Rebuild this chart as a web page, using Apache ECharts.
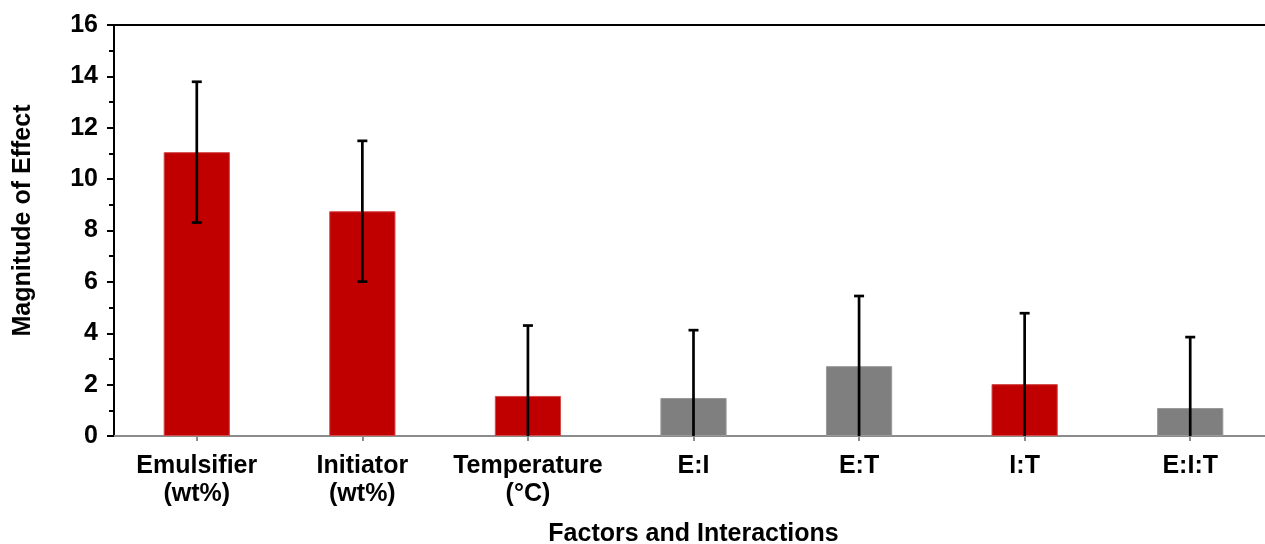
<!DOCTYPE html>
<html>
<head>
<meta charset="utf-8">
<script src="https://cdn.jsdelivr.net/npm/echarts@6/dist/echarts.min.js"></script>
<style>html,body{margin:0;padding:0;background:#fff;overflow:hidden}#c{width:1265px;height:544px}</style>
</head>
<body>
<div id="c"></div>
<script>
const categories = ['Emulsifier\n(wt%)', 'Initiator\n(wt%)', 'Temperature\n(°C)', 'E:I', 'E:T', 'I:T', 'E:I:T'];
const effects = [11.05, 8.75, 1.56, 1.48, 2.72, 2.02, 1.09];
const errors = [2.74, 2.74, 2.74, 2.64, 2.73, 2.76, 2.76];
const significant = [true, true, true, false, false, true, false];
const yTicks = [0, 2, 4, 6, 8, 10, 12, 14, 16];

const RED = '#C00000', GRAY = '#7F7F7F';
const font = 'Liberation Sans, Arial, sans-serif';
const FS = 25;

const chart = echarts.init(document.getElementById('c'));
chart.setOption({
  animation: false,
  grid: { left: 114, width: 1159, top: 25, bottom: 108, outerBoundsMode: 'none', containLabel: false },
  xAxis: [{
    type: 'category',
    data: categories,
    name: 'Factors and Interactions',
    nameLocation: 'middle',
    nameGap: 86,
    nameTextStyle: { fontFamily: font, fontWeight: 'bold', fontSize: FS, color: '#000' },
    axisLine: { lineStyle: { color: '#8c8c8c', width: 2 } },
    axisTick: { show: true, alignWithLabel: true, length: 5, lineStyle: { color: '#8c8c8c', width: 2 } },
    axisLabel: { interval: 0, margin: 16, fontFamily: font, fontWeight: 'bold', fontSize: FS, color: '#000', lineHeight: 28 }
  }, {
    type: 'category',
    position: 'top',
    data: categories,
    axisLine: { lineStyle: { color: '#000', width: 2 } },
    axisTick: { show: false },
    axisLabel: { show: false }
  }],
  yAxis: {
    type: 'value',
    min: 0, max: 16, interval: 2,
    name: 'Magnitude of Effect',
    nameLocation: 'middle',
    nameGap: 78,
    nameRotate: 90,
    nameTextStyle: { fontFamily: font, fontWeight: 'bold', fontSize: FS, color: '#000', padding: [0, 0, 0, 20] },
    axisLine: { show: true, lineStyle: { color: '#000', width: 2 } },
    axisTick: { show: true, length: 7, lineStyle: { color: '#000', width: 2 } },
    minorTick: { show: true, splitNumber: 2, length: 5, lineStyle: { color: '#000', width: 2 } },
    splitLine: { show: false },
    axisLabel: {
      margin: 16, fontFamily: font, fontWeight: 'bold', fontSize: FS, color: '#000',
      formatter: v => yTicks.includes(v) ? String(v) : ''
    }
  },
  series: [{
    type: 'bar',
    barWidth: '40%',
    data: effects.map((v, i) => ({
      value: v,
      itemStyle: {
        color: significant[i] ? RED : GRAY,
        borderColor: significant[i] ? '#d44a4a' : '#9a9a9a',
        borderWidth: 1
      }
    })),
    z: 2
  }, {
    type: 'custom',
    z: 5,
    data: effects.map((v, i) => [i, Math.max(0, v - errors[i]), v + errors[i]]),
    renderItem: function (params, api) {
      const x = api.value(0);
      const lo = api.coord([x, api.value(1)]);
      const hi = api.coord([x, api.value(2)]);
      const cap = 5;
      const style = { stroke: '#000', lineWidth: 2.7 };
      const children = [
        { type: 'line', shape: { x1: hi[0], y1: hi[1], x2: lo[0], y2: lo[1] }, style: style },
        { type: 'line', shape: { x1: hi[0] - cap, y1: hi[1], x2: hi[0] + cap, y2: hi[1] }, style: style }
      ];
      if (api.value(1) > 0) {
        children.push({ type: 'line', shape: { x1: lo[0] - cap, y1: lo[1], x2: lo[0] + cap, y2: lo[1] }, style: style });
      }
      return { type: 'group', children: children };
    }
  }]
});
</script>
</body>
</html>
